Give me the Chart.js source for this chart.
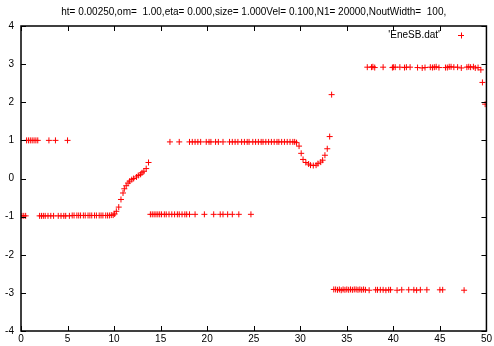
<!DOCTYPE html>
<html>
<head>
<meta charset="utf-8">
<script src="https://cdn.jsdelivr.net/npm/chart.js@4/dist/chart.umd.min.js"></script>
<style>
  html, body { margin: 0; padding: 0; background: #fff; }
  #box { width: 494px; height: 346px; }
</style>
</head>
<body>
<div id="box"><canvas id="mycanvas"></canvas></div>
<script>
var title = "ht= 0.00250,om=  1.00,eta= 0.000,size= 1.000Vel= 0.100,N1= 20000,NoutWidth=  100,";
var seriesName = "'EneSB.dat'";
var xTicks = [0, 5, 10, 15, 20, 25, 30, 35, 40, 45, 50];
var yTicks = [-4, -3, -2, -1, 0, 1, 2, 3, 4];

// left group near +1
var upLeftX = [0.6, 0.8, 1.0, 1.2, 1.4, 1.6, 1.8, 3.0, 3.7, 5.0];
var upLeftY = [1.0, 1.0, 1.0, 1.0, 1.0, 1.0, 1.0, 1.0, 1.0, 1.0];

// lower branch near -1 then rising curve
var lowX = [0.1, 0.3, 0.5, 2.0, 2.2, 2.4, 2.6, 2.9, 3.2, 3.5, 4.0, 4.3, 4.6, 4.8,
  5.2, 5.5, 5.7, 6.0, 6.2, 6.4, 6.7, 6.9, 7.2, 7.4, 7.6, 7.9, 8.1, 8.4, 8.6, 8.8, 9.1, 9.3, 9.5, 9.7, 9.9,
  10.06, 10.24, 10.5, 10.74, 10.96, 11.1, 11.3, 11.5, 11.67, 11.9, 12.1, 12.4, 12.6, 12.85, 13.0, 13.2, 13.45, 13.7];
var lowY = [-0.98, -0.98, -0.98, -0.98, -0.98, -0.98, -0.98, -0.98, -0.98, -0.98, -0.98, -0.98, -0.98, -0.98,
  -0.98, -0.97, -0.97, -0.97, -0.97, -0.97, -0.97, -0.97, -0.97, -0.97, -0.97, -0.97, -0.97, -0.97, -0.97, -0.97, -0.97, -0.97, -0.97, -0.96, -0.96,
  -0.93, -0.86, -0.75, -0.55, -0.38, -0.27, -0.19, -0.12, -0.07, -0.03, 0.0, 0.04, 0.08, 0.11, 0.15, 0.19, 0.26, 0.42];

// middle branch near -0.94
var midLowX = [13.9, 14.1, 14.3, 14.5, 14.7, 14.9, 15.1, 15.4, 15.6, 15.9, 16.2, 16.5, 16.8, 17.0, 17.3, 17.6, 17.8, 18.1,
  18.7, 19.7, 20.7, 21.4, 21.7, 22.2, 22.7, 23.4, 24.7];
var midLowY = [-0.94, -0.94, -0.94, -0.94, -0.94, -0.94, -0.94, -0.94, -0.94, -0.94, -0.94, -0.94, -0.94, -0.94, -0.94, -0.94, -0.94, -0.94,
  -0.94, -0.94, -0.94, -0.94, -0.94, -0.94, -0.94, -0.94, -0.94];

// middle branch near +0.96 with the dip
var midUpX = [16.0, 17.0, 18.1, 18.4, 18.7, 19.0, 19.3, 19.9, 20.2, 20.4, 20.9, 21.2, 21.7, 22.4, 22.7, 23.0, 23.3,
  23.7, 24.0, 24.3, 24.5, 24.9, 25.2, 25.5, 25.8, 26.0, 26.3, 26.6, 26.9, 27.2, 27.5, 27.7, 28.0, 28.3, 28.6, 28.9, 29.2, 29.4,
  29.6, 29.87, 30.1, 30.3, 30.6, 30.9, 31.1, 31.4, 31.7, 31.9, 32.2, 32.4, 32.65, 32.9, 33.16, 33.37];
var midUpY = [0.96, 0.96, 0.96, 0.96, 0.96, 0.96, 0.96, 0.96, 0.96, 0.96, 0.96, 0.96, 0.96, 0.96, 0.96, 0.96, 0.96,
  0.96, 0.96, 0.96, 0.96, 0.96, 0.96, 0.96, 0.96, 0.96, 0.96, 0.96, 0.96, 0.96, 0.96, 0.96, 0.96, 0.96, 0.96, 0.96, 0.96, 0.96,
  0.94, 0.85, 0.66, 0.50, 0.42, 0.38, 0.35, 0.34, 0.35, 0.39, 0.43, 0.48, 0.61, 0.78, 1.10, 2.20];

// right top branch near 2.92
var topX = [37.2, 37.65, 37.8, 38.0, 38.9, 39.9, 40.0, 40.2, 40.7, 41.2, 41.4, 41.8, 42.6, 43.1, 43.4, 43.97, 44.2, 44.4, 44.6, 44.9,
  45.6, 45.8, 46.0, 46.2, 46.5, 46.9, 47.3, 47.9, 48.1, 48.3, 48.6, 48.8, 49.1, 49.4, 49.57, 49.86];
var topY = [2.92, 2.92, 2.93, 2.91, 2.92, 2.91, 2.92, 2.92, 2.92, 2.91, 2.92, 2.92, 2.91, 2.90, 2.91, 2.92, 2.91, 2.92, 2.93, 2.91,
  2.91, 2.91, 2.93, 2.93, 2.92, 2.92, 2.90, 2.92, 2.93, 2.92, 2.93, 2.90, 2.91, 2.85, 2.52, 1.95];

// right bottom branch near -2.91
var botX = [33.6, 33.8, 34.0, 34.2, 34.4, 34.6, 34.8, 35.0, 35.2, 35.4, 35.6, 35.8, 36.0, 36.2, 36.4, 36.6, 36.8, 37.0, 37.4,
  38.1, 38.3, 38.6, 38.9, 39.2, 39.5, 39.7, 40.4, 40.9, 41.65, 42.2, 42.5, 42.9, 43.6, 45.0, 45.3, 47.6];
var botY = [-2.91, -2.91, -2.92, -2.91, -2.93, -2.91, -2.92, -2.91, -2.92, -2.91, -2.92, -2.91, -2.91, -2.92, -2.91, -2.92, -2.91, -2.92, -2.93,
  -2.92, -2.92, -2.92, -2.92, -2.93, -2.92, -2.92, -2.93, -2.92, -2.92, -2.92, -2.93, -2.92, -2.92, -2.92, -2.92, -2.93];

var allX = [].concat(upLeftX, lowX, midLowX, midUpX, topX, botX);
var allY = [].concat(upLeftY, lowY, midLowY, midUpY, topY, botY);
var points = [];
for (var i in allX) {
  points.push({x: allX[i], y: allY[i]});
}

var RED = "rgb(255, 0, 0)";
var FONT = "'Liberation Sans', Arial, sans-serif";

// gnuplot-like frame, inward mirror ticks, title and key
var gnuFrame = {
  id: "gnuFrame",
  afterDraw: function(chart) {
    var c = chart.ctx;
    var a = chart.chartArea;
    var xs = chart.scales.x;
    var ys = chart.scales.y;
    var tl = 5;
    c.save();
    c.strokeStyle = "#000";
    c.lineWidth = 1;
    c.beginPath();
    for (var i in xTicks) {
      var px = Math.round(xs.getPixelForValue(xTicks[i])) + 0.5;
      c.moveTo(px, a.bottom); c.lineTo(px, a.bottom - tl);
      c.moveTo(px, a.top); c.lineTo(px, a.top + tl);
    }
    for (var j in yTicks) {
      var py = Math.round(ys.getPixelForValue(yTicks[j])) + 0.5;
      c.moveTo(a.left, py); c.lineTo(a.left + tl, py);
      c.moveTo(a.right, py); c.lineTo(a.right - tl, py);
    }
    c.stroke();
    c.lineWidth = 1.5;
    c.strokeRect(a.left, a.top, a.right - a.left, a.bottom - a.top);

    c.fillStyle = "#000";
    c.font = "10px " + FONT;
    c.textBaseline = "middle";
    c.textAlign = "center";
    c.fillText(title, (a.left + a.right) / 2, 12);
    c.textAlign = "right";
    c.fillText(seriesName, 440, 35);

    c.strokeStyle = RED;
    c.lineWidth = 1;
    c.beginPath();
    c.moveTo(458, 35.5); c.lineTo(464, 35.5);
    c.moveTo(461.5, 32.5); c.lineTo(461.5, 38.5);
    c.stroke();
    c.restore();
  }
};

var ctx = document.getElementById("mycanvas");

var chartdata = {
  datasets: [
    {
      label: seriesName,
      data: points,
      showLine: false,
      pointStyle: "cross",
      pointRadius: 3,
      pointBorderWidth: 1,
      borderColor: RED,
      backgroundColor: RED
    }
  ]
};

var ScatterGraph = new Chart(ctx, {
  type: "scatter",
  data: chartdata,
  plugins: [gnuFrame],
  options: {
    responsive: true,
    maintainAspectRatio: false,
    animation: false,
    layout: { padding: { top: 26, right: 6, left: 0, bottom: 0 } },
    plugins: {
      legend: { display: false },
      title: { display: false },
      tooltip: { enabled: false }
    },
    scales: {
      x: {
        type: "linear",
        min: 0,
        max: 50,
        afterFit: function(s) { s.height = 15; },
        afterBuildTicks: function(s) { s.ticks = xTicks.map(function(v) { return {value: v}; }); },
        grid: { display: false, drawTicks: false },
        border: { display: false },
        ticks: { padding: 2, color: "#000", font: { size: 10, family: FONT }, maxRotation: 0 }
      },
      y: {
        type: "linear",
        min: -4,
        max: 4,
        afterFit: function(s) { s.width = 21; },
        afterBuildTicks: function(s) { s.ticks = yTicks.map(function(v) { return {value: v}; }); },
        grid: { display: false, drawTicks: false },
        border: { display: false },
        ticks: { padding: 7, color: "#000", font: { size: 10, family: FONT } }
      }
    }
  }
});
</script>
</body>
</html>
